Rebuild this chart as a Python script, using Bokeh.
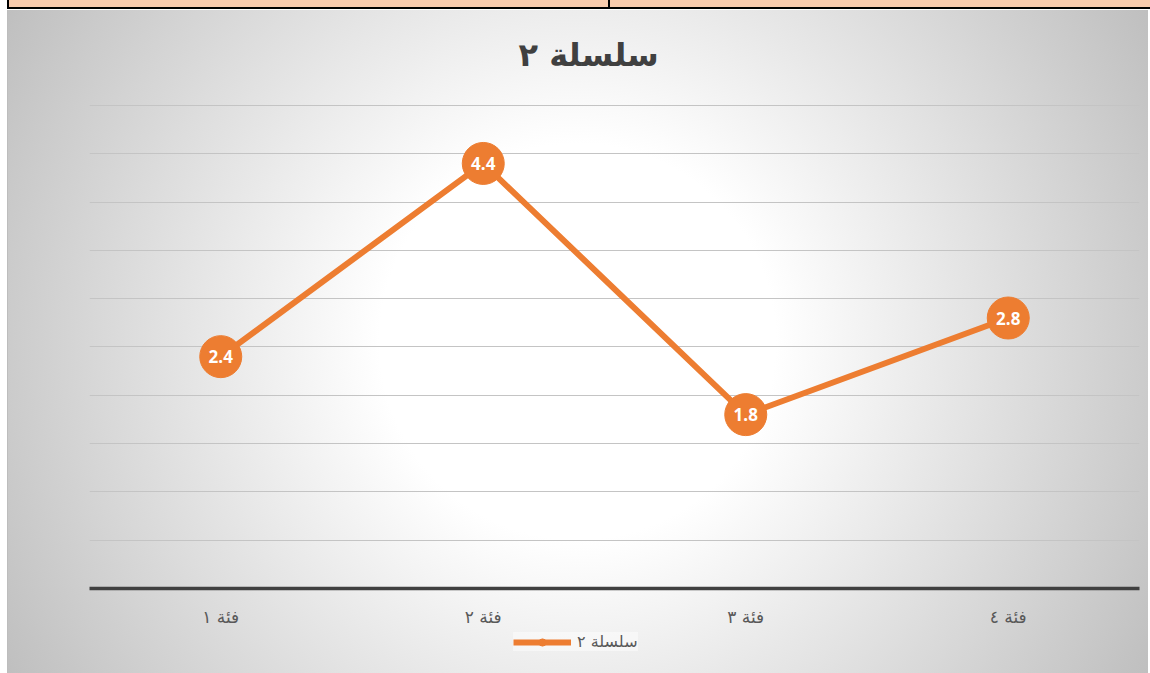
from bokeh.plotting import figure
from bokeh.layouts import column
from bokeh.models import ColumnDataSource, FactorRange, Range1d, SingleIntervalTicker, Legend, LegendItem
from bokeh.core.properties import value
from bokeh.embed import file_html
from bokeh.resources import INLINE

categories = ["فئة ١", "فئة ٢", "فئة ٣", "فئة ٤"]
values = [2.4, 4.4, 1.8, 2.8]
labels = ["2.4", "4.4", "1.8", "2.8"]
series_name = "سلسلة ٢"
title_text = "سلسلة ٢"

ORANGE = "#ED7D31"

src = ColumnDataSource(dict(x=categories, y=values, label=labels))

p = figure(width=1150, height=629,
           x_range=FactorRange(*categories, range_padding=0),
           y_range=Range1d(0, 5.3),
           output_backend="svg", toolbar_location=None,
           min_border_left=89, min_border_right=11,
           min_border_top=76, min_border_bottom=38)

p.background_fill_alpha = 0
p.border_fill_alpha = 0
p.outline_line_color = None

p.title.text = title_text
p.title.align = "left"
p.title.offset = 429
p.title.text_font = "DejaVu Sans"
p.title.text_font_style = "bold"
p.title.text_font_size = "32px"
p.title.text_color = "#404040"
p.title.standoff = 6

p.yaxis.visible = False
p.ygrid.ticker = SingleIntervalTicker(interval=0.5)
p.ygrid.grid_line_color = "#c4c4c4"
p.ygrid.grid_line_width = 1
p.xgrid.visible = False

p.xaxis.axis_line_color = "#404040"
p.xaxis.axis_line_width = 3.5
p.xaxis.major_tick_line_color = None
p.xaxis.minor_tick_line_color = None
p.xaxis.major_tick_out = 0
p.xaxis.major_tick_in = 0
p.xaxis.major_label_standoff = 18
p.xaxis.major_label_text_font = "DejaVu Sans"
p.xaxis.major_label_text_font_size = "17px"
p.xaxis.major_label_text_color = "#595959"

p.line(x="x", y="y", source=src, line_color=ORANGE, line_width=6)
p.scatter(x="x", y="y", source=src, size=42, fill_color=ORANGE, line_color=ORANGE)
p.text(x="x", y="y", text="label", source=src, text_color="white",
       text_font=value("Open Sans"), text_font_style="bold", text_font_size="17px",
       text_align="center", text_baseline="middle")

# legend strip below the chart
q = figure(width=1150, height=44, x_range=Range1d(0, 1), y_range=Range1d(0, 1),
           title=None, output_backend="svg", toolbar_location=None,
           x_axis_location=None, y_axis_location=None,
           min_border=0, min_border_left=0, min_border_right=0,
           min_border_top=0, min_border_bottom=0)
q.background_fill_alpha = 0
q.border_fill_alpha = 0
q.outline_line_color = None
q.grid.visible = False
lg_line = q.line(x=[-5, -4], y=[-5, -5], line_color=ORANGE, line_width=6)
lg_dot = q.scatter(x=[-5], y=[-5], size=12, fill_color=ORANGE, line_color=ORANGE)

legend = Legend(items=[LegendItem(label=series_name, renderers=[lg_line, lg_dot])],
                location=(424, 22), orientation="horizontal", margin=0, padding=12,
                label_text_font="DejaVu Sans", label_text_font_size="16px",
                label_text_color="#595959", glyph_width=58, glyph_height=18,
                label_standoff=6, label_height=18,
                background_fill_color="white", background_fill_alpha=0.45,
                border_line_color=None)
q.add_layout(legend)

layout = column(p, q, spacing=0)
layout.styles = {"background": (
    "linear-gradient(#000,#000) 7px 0 / 2px 9px no-repeat, "
    "linear-gradient(#000,#000) 608px 0 / 2px 9px no-repeat, "
    "linear-gradient(#000,#000) 7px 7px / 1143px 2px no-repeat, "
    "linear-gradient(#f8cbad,#f8cbad) 7px 0 / 1143px 7px no-repeat, "
    "linear-gradient(#bdbdbd,#bdbdbd) 7px 10px / 1px 663px no-repeat, "
    "radial-gradient(circle farthest-corner at 50% 50%, #ffffff 0%, #ffffff 30%, #bfbfbf 100%) 7px 10px / 1141px 663px no-repeat, "
    "#ffffff")}

open("out.html", "w").write(file_html(layout, INLINE))
